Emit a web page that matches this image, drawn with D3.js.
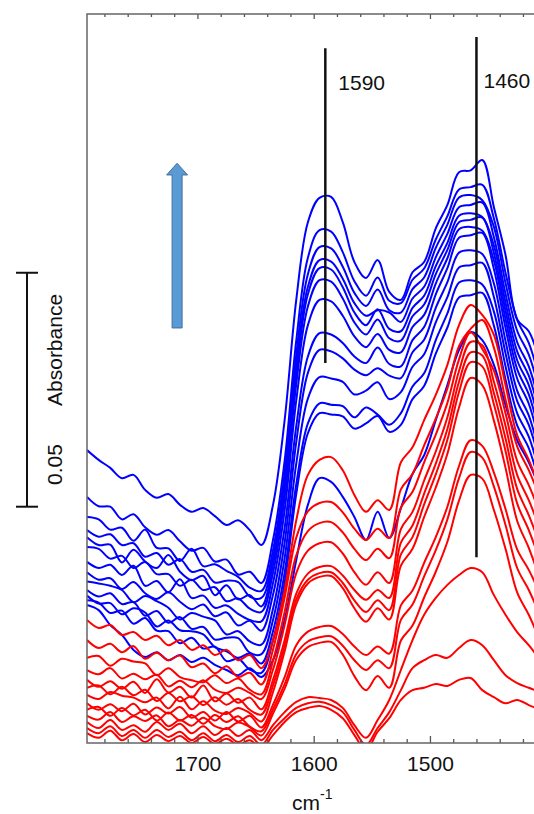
<!DOCTYPE html>
<html>
<head>
<meta charset="utf-8">
<script src="https://cdn.jsdelivr.net/npm/d3@7"></script>
<style>
body { margin: 0; background: #fff; }
svg { display: block; font-family: "Liberation Sans", Arial, sans-serif; }
</style>
</head>
<body>
<svg width="534" height="814"></svg>
<script>
// sampling grid of every spectrum (cm-1)
var wavenumbers = [1795,1785,1775,1765,1755,1745,1735,1725,1715,1705,
                   1695,1685,1675,1665,1655,1645,1635,1625,1615,1605,
                   1595,1585,1575,1565,1555,1545,1535,1525,1515,1505,
                   1495,1485,1475,1465,1455,1445,1435,1425,1415,1405];

// absorbance, in mAbs (offset spectra)
var blueSpectra = [
  [62.6,60.5,58.8,56.6,57.3,54.1,52.4,53.2,50.9,49.4,50.2,48.5,46.6,47.6,45.5,42.3,50.9,69.0,94.7,111.3,116.5,116.7,111.3,102.8,99.4,103.2,96.4,94.7,100.6,102.8,110.0,115.0,122.0,122.4,124.6,114.5,104.3,90.5,88.0,80.8],
  [52.6,50.6,50.5,47.8,48.9,46.1,44.5,45.5,43.1,41.1,41.7,38.8,39.2,36.0,36.6,34.2,43.4,60.3,86.0,103.7,109.6,109.3,104.9,98.7,95.6,99.5,94.5,94.0,99.0,101.4,107.6,112.6,118.3,118.8,119.3,112.1,100.5,90.5,85.5,77.2],
  [48.3,47.8,45.6,46.0,43.2,45.6,41.7,41.6,38.9,41.5,37.8,38.2,36.8,35.5,33.2,32.5,41.2,57.8,83.0,100.2,106.0,105.7,101.8,96.2,93.4,96.9,92.5,92.0,97.0,99.5,105.8,110.8,116.6,117.1,116.0,110.3,98.3,88.1,83.0,74.5],
  [45.5,44.1,44.6,42.3,42.7,39.8,40.6,38.1,39.3,36.6,37.0,34.3,34.7,34.4,31.3,31.0,39.6,55.8,80.6,97.5,103.2,102.9,99.2,94.0,91.3,92.5,92.0,90.0,95.0,97.5,103.8,108.8,114.5,115.0,115.5,108.1,96.0,85.7,80.5,71.9],
  [44.0,42.3,42.4,38.6,41.3,38.8,37.4,40.2,36.6,34.8,35.7,31.6,33.7,30.7,31.6,29.2,38.1,54.3,78.9,95.9,101.5,101.2,97.4,92.0,89.3,92.7,88.5,88.0,93.0,95.6,101.9,106.9,112.7,113.2,112.4,106.3,94.1,83.7,78.5,69.8],
  [41.9,41.5,39.4,40.0,37.4,38.7,36.1,36.1,33.6,34.9,32.7,33.3,30.3,30.9,28.7,28.0,36.4,52.4,76.7,93.3,98.9,98.6,95.0,89.9,87.3,90.5,86.5,86.0,91.2,93.7,100.2,105.4,111.3,111.8,112.3,104.7,92.4,81.8,76.5,67.7],
  [38.7,37.4,38.1,35.9,37.9,33.6,34.6,32.2,35.0,31.0,31.5,28.9,29.4,27.6,26.3,26.0,34.2,49.7,73.2,89.3,94.7,94.4,91.3,86.9,84.6,87.4,84.0,83.5,88.9,91.5,98.2,103.6,109.8,110.3,109.5,103.1,90.6,79.9,74.5,65.5],
  [36.5,34.9,35.2,32.9,34.4,32.0,30.8,32.2,30.2,28.6,29.6,27.1,27.9,25.1,26.1,24.0,31.7,46.0,67.7,82.6,87.6,87.3,85.5,82.6,81.2,84.5,81.0,80.5,86.1,88.9,95.9,101.5,108.0,108.5,109.0,101.3,88.7,77.9,72.5,63.5],
  [34.5,34.1,33.6,32.7,30.1,31.4,30.3,28.9,26.4,27.8,27.0,26.2,23.2,23.9,21.7,21.0,28.7,42.8,64.3,79.1,84.0,83.7,82.2,79.8,78.6,80.1,78.5,78.0,83.5,86.2,93.0,98.5,104.8,105.3,104.5,98.2,85.9,75.3,70.0,61.2],
  [32.7,31.3,32.0,29.7,30.1,27.2,28.2,25.7,26.9,24.4,24.8,22.1,22.5,22.4,19.3,19.0,26.3,39.5,59.7,73.6,78.2,77.9,77.2,74.5,75.3,77.1,73.5,75.0,80.4,83.1,89.9,95.3,101.6,102.1,102.6,95.3,83.3,73.1,68.0,59.5],
  [31.5,29.8,29.9,27.5,28.8,27.9,24.9,26.2,24.1,23.9,23.2,20.5,19.6,18.2,19.1,17.0,23.9,36.4,55.3,68.3,72.6,72.3,72.0,69.6,71.7,70.2,68.0,70.5,76.2,79.0,86.1,91.8,98.4,98.9,98.0,92.2,80.5,70.5,65.5,57.1],
  [30.5,30.0,27.8,28.3,25.5,26.7,24.0,23.9,21.3,22.5,20.2,20.6,17.5,18.0,15.7,15.0,21.9,34.3,53.2,66.2,70.5,70.2,69.8,67.2,68.3,69.9,66.5,68.0,73.5,76.3,83.2,88.8,95.2,95.7,96.2,89.2,77.7,67.9,63.0,54.8],
  [29.5,28.4,25.2,23.1,19.9,18.4,19.4,17.7,18.8,17.3,18.2,16.7,15.6,14.5,16.0,14.1,17.7,26.3,39.1,50.9,56.6,55.8,52.6,48.3,43.4,49.4,43.8,50.2,57.5,61.5,69.0,76.5,84.0,87.8,86.1,80.8,72.2,64.7,60.0,54.1]
];

var redSpectra = [
  [26.3,24.6,25.2,23.1,23.7,22.0,22.9,20.9,22.0,19.9,20.9,18.8,19.9,17.7,18.8,16.0,22.0,32.7,47.6,57.3,60.5,61.1,58.3,53.0,49.4,51.9,49.8,60.0,63.2,69.0,74.4,80.8,89.3,93.6,91.5,87.2,76.5,65.8,60.5,54.1],
  [22.0,20.3,21.2,19.4,20.7,18.0,19.3,17.7,18.7,16.2,17.0,14.9,16.4,14.1,15.0,12.5,20.0,31.1,43.9,49.5,51.3,51.5,49.3,45.8,43.4,45.8,43.8,54.2,57.5,63.6,69.3,75.8,84.8,88.5,90.4,84.5,73.4,63.4,58.3,52.2],
  [18.2,18.6,16.5,18.0,17.4,17.0,14.5,16.0,14.1,13.4,13.0,14.5,12.8,13.8,11.4,10.4,17.6,28.0,40.1,45.3,47.0,47.2,45.0,41.5,39.1,41.5,39.5,50.3,53.7,60.0,65.9,72.7,82.0,87.8,84.2,79.6,70.5,60.3,55.1,48.9],
  [15.6,14.7,16.0,13.8,14.8,13.6,14.6,12.1,13.3,11.9,13.4,11.4,10.7,11.8,10.7,9.4,15.7,25.2,36.3,41.1,42.7,42.9,40.5,36.5,33.8,36.5,34.2,45.7,49.4,56.1,62.3,69.6,79.5,85.7,85.0,77.2,67.8,57.3,51.9,45.5],
  [13.5,12.0,13.2,11.6,13.1,10.7,13.6,10.8,12.0,9.7,12.3,8.9,10.6,8.6,9.7,7.2,13.5,22.0,31.9,36.2,37.6,37.8,35.8,32.7,30.6,32.7,31.0,42.8,46.5,53.3,59.7,67.1,77.2,83.5,82.8,74.8,65.1,54.3,48.7,42.1],
  [11.8,12.3,10.4,12.0,10.2,11.4,9.0,10.7,8.9,10.0,8.1,9.8,8.2,9.4,7.1,6.1,12.3,20.8,30.7,34.9,36.3,36.5,34.2,30.5,28.0,30.5,28.4,40.3,44.0,51.0,57.4,64.8,75.0,81.4,80.5,72.4,62.4,51.2,45.5,38.7],
  [10.3,9.4,10.9,10.1,9.7,8.7,9.7,7.4,9.9,7.2,8.9,6.9,6.2,7.5,6.4,4.6,10.9,19.6,29.7,34.1,35.5,35.7,33.1,28.8,25.9,28.8,26.4,37.9,41.5,48.3,54.6,61.8,71.7,78.0,76.5,68.9,58.8,47.5,41.7,34.8],
  [8.5,7.1,8.3,6.8,8.4,6.1,7.6,6.3,7.7,5.4,6.6,4.8,6.6,4.6,5.8,3.3,8.2,14.1,20.9,23.8,24.8,25.0,23.3,20.6,18.8,20.6,19.1,29.4,32.6,38.5,44.0,50.5,59.2,64.7,63.5,57.8,50.0,41.4,37.0,31.7],
  [7.1,7.7,5.8,7.5,5.9,7.1,4.8,6.5,4.8,6.0,4.1,6.0,4.5,5.7,3.5,2.5,7.2,12.6,19.0,21.7,22.6,22.8,20.8,17.7,15.6,17.7,16.0,26.3,29.6,35.6,41.2,47.8,56.6,62.2,61.0,54.8,46.6,37.4,32.7,27.1],
  [5.8,5.0,6.6,4.5,5.7,4.7,5.9,3.6,4.9,3.7,5.4,3.6,3.0,4.4,3.4,1.6,6.3,11.6,17.8,20.5,21.4,21.6,18.9,14.3,11.3,14.3,11.8,21.9,25.1,31.1,36.6,43.0,51.8,57.3,56.5,49.8,41.5,32.2,27.4,21.7],
  [4.5,3.2,4.9,2.8,3.8,2.4,4.5,2.8,4.1,2.1,3.6,1.7,3.2,1.5,2.8,0.6,3.8,6.6,8.8,9.8,9.6,9.2,7.5,3.8,1.1,4.9,9.2,15.6,22.0,27.4,31.0,33.8,35.9,37.4,36.5,31.6,27.4,23.7,20.9,17.7],
  [3.2,2.1,3.6,1.5,2.8,1.1,2.8,1.3,2.4,0.6,2.1,0.4,1.7,0.2,1.5,-0.4,2.8,5.3,7.5,8.5,8.8,8.1,6.6,2.8,-0.4,3.2,6.6,11.3,16.0,17.7,18.8,18.2,20.3,22.0,20.9,17.7,14.5,12.8,11.8,10.9],
  [2.1,1.1,2.6,0.6,1.9,0.2,1.7,0.4,1.5,0.0,1.3,-0.2,0.9,-0.4,0.6,-1.1,1.7,4.5,6.6,7.5,7.9,7.1,5.3,1.7,-1.5,2.4,5.3,9.2,11.3,11.8,12.6,12.2,13.5,13.9,11.3,9.8,8.5,9.2,8.1,7.1]
];

var majorTicks = [1700, 1600, 1500];
var markerBands = [1590, 1460];
var markerLabels = ["1590", "1460"];
var scaleBarSize = 50; // mAbs = 0.05 absorbance

var svg = d3.select("svg"),
    pLeft = 87, pRight = 534, pTop = 14, pBottom = 743;

var x = d3.scaleLinear().domain([1795, 1410.5]).range([pLeft, pRight]);
var y = d3.scaleLinear().domain([0, 155.8]).range([pBottom, pTop]);

svg.append("defs").append("clipPath").attr("id", "plot")
  .append("rect").attr("x", pLeft).attr("y", pTop)
  .attr("width", pRight - pLeft + 10).attr("height", pBottom - pTop);

var line = d3.line()
  .x(function (d, i) { return x(wavenumbers[i]); })
  .y(function (d) { return y(d); })
  .curve(d3.curveCatmullRom.alpha(0.5));

var spectra = svg.append("g").attr("clip-path", "url(#plot)");

spectra.selectAll("path.blue")
  .data(blueSpectra)
  .enter().append("path")
  .attr("class", "blue")
  .attr("d", line)
  .attr("fill", "none")
  .attr("stroke", "#0000ff")
  .attr("stroke-width", 2);

spectra.selectAll("path.red")
  .data(redSpectra)
  .enter().append("path")
  .attr("class", "red")
  .attr("d", line)
  .attr("fill", "none")
  .attr("stroke", "#ff0000")
  .attr("stroke-width", 2);

// marker lines at the two bands
var markerTop = [148.5, 150.9], markerBottom = [81.2, 39.7], labelDx = [13, 7], labelY = [90, 88];
svg.selectAll("line.marker")
  .data(markerBands)
  .enter().append("line")
  .attr("class", "marker")
  .attr("x1", function (d) { return x(d); })
  .attr("x2", function (d) { return x(d); })
  .attr("y1", function (d, i) { return y(markerTop[i]); })
  .attr("y2", function (d, i) { return y(markerBottom[i]); })
  .attr("stroke", "#111")
  .attr("stroke-width", 2.5);

svg.selectAll("text.marker")
  .data(markerBands)
  .enter().append("text")
  .attr("class", "marker")
  .attr("x", function (d, i) { return x(d) + labelDx[i]; })
  .attr("y", function (d, i) { return labelY[i]; })
  .attr("font-size", 21)
  .attr("fill", "#111")
  .text(function (d, i) { return markerLabels[i]; });

// axes: ticks point inwards
var minorTicks = d3.range(1420, 1781, 20).filter(function (t) { return majorTicks.indexOf(t) < 0; });

function frameAxis(g) {
  g.select(".domain").remove();
  g.selectAll(".tick line").attr("stroke", "#555").attr("stroke-width", 1.3);
}

svg.append("g").attr("transform", "translate(0," + pBottom + ")")
  .call(d3.axisBottom(x).tickValues(minorTicks).tickSize(-4).tickFormat(""))
  .call(frameAxis);
svg.append("g").attr("transform", "translate(0," + pBottom + ")")
  .call(d3.axisBottom(x).tickValues(majorTicks).tickSize(-7).tickPadding(13).tickFormat(d3.format("d")))
  .call(frameAxis)
  .selectAll("text").attr("font-size", 21).attr("font-family", "Liberation Sans, Arial, sans-serif").attr("fill", "#111");
svg.append("g").attr("transform", "translate(0," + pTop + ")")
  .call(d3.axisTop(x).tickValues(minorTicks).tickSize(-3).tickFormat(""))
  .call(frameAxis);
svg.append("g").attr("transform", "translate(0," + pTop + ")")
  .call(d3.axisTop(x).tickValues(majorTicks).tickSize(-5).tickFormat(""))
  .call(frameAxis);

svg.append("path")
  .attr("d", "M" + pRight + "," + pTop + "H" + pLeft + "V" + pBottom + "H" + pRight)
  .attr("fill", "none")
  .attr("stroke", "#666")
  .attr("stroke-width", 1.5);

// axis title cm-1
var xt = svg.append("text").attr("x", 292).attr("y", 810).attr("font-size", 21).attr("fill", "#111");
xt.append("tspan").text("cm");
xt.append("tspan").attr("dy", -11).attr("font-size", 14).text("-1");

// scale bar 0.05 absorbance
var barTop = 100.5, barX = 27;
var bar = svg.append("g").attr("stroke", "#111").attr("stroke-width", 2);
bar.append("line").attr("x1", barX).attr("x2", barX)
  .attr("y1", y(barTop)).attr("y2", y(barTop - scaleBarSize));
[barTop, barTop - scaleBarSize].forEach(function (v) {
  bar.append("line").attr("x1", barX - 11).attr("x2", barX + 11)
    .attr("y1", y(v)).attr("y2", y(v));
});
svg.append("text")
  .attr("transform", "translate(62," + y(barTop - scaleBarSize * 0.82) + ") rotate(-90)")
  .attr("text-anchor", "middle").attr("font-size", 21).attr("fill", "#111")
  .text("0.05");
svg.append("text")
  .attr("transform", "translate(62," + y(barTop - scaleBarSize * 0.33) + ") rotate(-90)")
  .attr("text-anchor", "middle").attr("font-size", 21).attr("fill", "#111")
  .text("Absorbance");

// arrow showing the trend from red to blue
var ax = x(1717.5), tipV = 123.9, headV = 121.4, tailV = 88.7, sw = 5, hw = 10.5;
svg.append("path")
  .attr("d", "M" + (ax - sw) + "," + y(tailV) +
             "V" + y(headV) + "H" + (ax - hw) +
             "L" + ax + "," + y(tipV) +
             "L" + (ax + hw) + "," + y(headV) +
             "H" + (ax + sw) + "V" + y(tailV) + "Z")
  .attr("fill", "#5b9bd5")
  .attr("stroke", "#41719c")
  .attr("stroke-width", 1);
</script>
</body>
</html>
